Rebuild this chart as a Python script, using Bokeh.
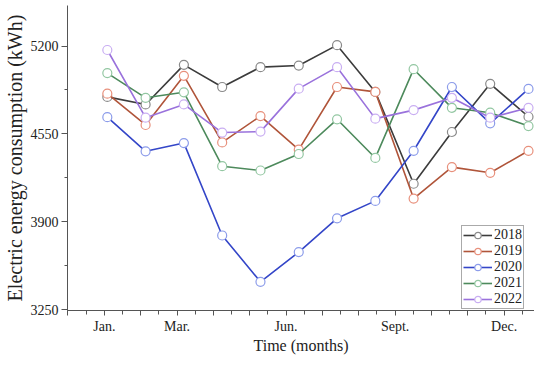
from bokeh.plotting import figure
from bokeh.models import Range1d, LinearAxis, FixedTicker, Legend, LegendItem
from bokeh.embed import file_html
from bokeh.resources import INLINE

months = list(range(1, 13))
month_labels = {1: "Jan.", 3: "Mar.", 6: "Jun.", 9: "Sept.", 12: "Dec."}

y2018 = [4824, 4768, 5061, 4897, 5044, 5056, 5207, 4861, 4181, 4564, 4921, 4677]
y2019 = [4848, 4616, 4980, 4487, 4682, 4433, 4897, 4861, 4071, 4304, 4262, 4425]
y2020 = [4674, 4421, 4482, 3798, 3455, 3675, 3925, 4054, 4425, 4897, 4628, 4883]
y2021 = [5000, 4817, 4858, 4311, 4279, 4401, 4658, 4372, 5029, 4743, 4707, 4608]
y2022 = [5171, 4670, 4768, 4560, 4567, 4885, 5044, 4663, 4726, 4817, 4670, 4743]

series = [
    ("2018", y2018, "#3c3c3c", "#8a8a8a"),
    ("2019", y2019, "#b0553a", "#e8907c"),
    ("2020", y2020, "#3446c8", "#8c9cea"),
    ("2021", y2021, "#4d8a5c", "#93c7a2"),
    ("2022", y2022, "#9a72dc", "#c9aef2"),
]

FONT = "Liberation Serif"

p = figure(width=534, height=356, output_backend="svg", toolbar_location=None,
           x_range=Range1d(-0.040, 12.157), y_range=Range1d(3242.6, 5500.5),
           min_border_left=65, min_border_right=0, min_border_top=5,
           min_border_bottom=43)
p.outline_line_color = None
p.xgrid.visible = False
p.ygrid.visible = False
p.xaxis.visible = False

p.extra_x_ranges = {"months": Range1d(-0.0137, 12.836)}
xax = LinearAxis(x_range_name="months")
xax.ticker = FixedTicker(ticks=list(range(0, 14)),
                         minor_ticks=[i * 0.5 for i in range(0, 27)])
xax.major_label_overrides = {k: month_labels.get(k, "") for k in range(0, 14)}
xax.axis_label = "Time (months)"
p.add_layout(xax, "below")

yax = p.yaxis[0]
yax.ticker = FixedTicker(ticks=[3250, 3900, 4550, 5200],
                         minor_ticks=[3575, 4225, 4875])
yax.axis_label = "Electric energy consumption (kWh)"

for ax in (xax, yax):
    ax.axis_line_color = "#555555"
    ax.major_tick_line_color = "#555555"
    ax.minor_tick_line_color = "#555555"
    ax.major_tick_in = 0
    ax.minor_tick_in = 0
    ax.major_label_text_font = FONT
    ax.major_label_text_font_size = "14px"
    ax.major_label_text_color = "#222222"
    ax.axis_label_text_font = FONT
    ax.axis_label_text_font_size = "16px"
    ax.axis_label_text_font_style = "normal"
    ax.axis_label_text_color = "#222222"

yax.axis_label_text_font_size = "20px"
xax.major_tick_out = 5
xax.minor_tick_out = 4
xax.major_label_standoff = 3
xax.axis_label_standoff = 0
yax.major_tick_out = 6
yax.minor_tick_out = 3
yax.major_label_standoff = 3
yax.axis_label_standoff = 2

items = []
for name, ys, lc, mc in series:
    r1 = p.line(months, ys, line_color=lc, line_width=1.6)
    r2 = p.scatter(months, ys, marker="circle", size=9, fill_color="white",
                   line_color=mc, line_width=1.2)
    items.append(LegendItem(label=name, renderers=[r1, r2]))

legend = Legend(items=items, location=(394, 1))
legend.label_text_font = FONT
legend.label_text_font_size = "14px"
legend.label_text_color = "#222222"
legend.glyph_width = 29
legend.glyph_height = 16
legend.label_height = 16
legend.label_standoff = 2
legend.spacing = 0
legend.padding = 1
legend.margin = 0
legend.border_line_color = "#555555"
legend.border_line_width = 1
legend.background_fill_alpha = 1
p.add_layout(legend, "center")

open("out.html", "w").write(file_html(p, INLINE))
